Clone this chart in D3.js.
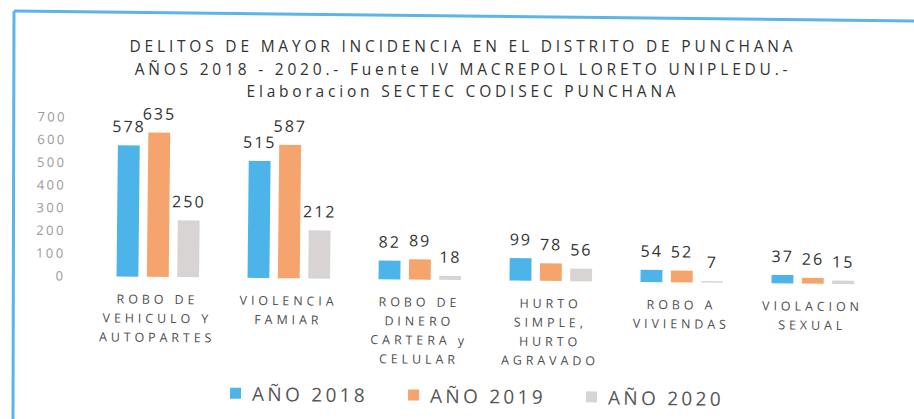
<!DOCTYPE html>
<html>
<head>
<meta charset="utf-8">
<script src="https://cdn.jsdelivr.net/npm/d3@7"></script>
<style>
  body { margin: 0; background: #fff; }
  svg { display: block; }
  .mono { font-family: "Open Sans", sans-serif; }
</style>
</head>
<body>
<div id="chart"></div>
<script>
const categories = [
    "ROBO DE|VEHICULO Y|AUTOPARTES",
    "VIOLENCIA|FAMIAR",
    "ROBO DE|DINERO|CARTERA y|CELULAR",
    "HURTO|SIMPLE,|HURTO|AGRAVADO",
    "ROBO A|VIVIENDAS",
    "VIOLACION|SEXUAL"
]
const years = ["AÑO 2018", "AÑO 2019", "AÑO 2020"]
const values2018 = [578, 515, 82, 99, 54, 37]
const values2019 = [635, 587, 89, 78, 52, 26]
const values2020 = [250, 212, 18, 56, 7, 15]
const yTicks = [0, 100, 200, 300, 400, 500, 600, 700]
const titleLines = [
    "DELITOS DE MAYOR INCIDENCIA EN EL DISTRITO DE PUNCHANA",
    "AÑOS 2018 - 2020.- Fuente IV MACREPOL LORETO UNIPLEDU.-",
    "Elaboracion SECTEC CODISEC PUNCHANA"
]

const COLORS = ["#4db4ea", "#f5a46d", "#d8d4d4"]
const FRAME_COLOR = "#5bb5e6"

var width = 914,
    height = 419

var svg = d3.select("#chart").append("svg")
    .attr("width", width)
    .attr("height", height)

// frame of the photographed chart
svg.append("path")
    .attr("d", d3.line()([[14, 11], [914, 21]]))
    .attr("stroke", FRAME_COLOR)
    .attr("stroke-width", 3)
    .attr("fill", "none")
svg.append("path")
    .attr("d", d3.line()([[14, 11], [13, 419]]))
    .attr("stroke", FRAME_COLOR)
    .attr("stroke-width", 3)
    .attr("fill", "none")

// title (kept level so the lines don't collide)
svg.selectAll(".title")
    .data(titleLines)
    .enter().append("text")
    .attr("class", "title mono")
    .attr("x", 463)
    .attr("y", (d, i) => 52 + i * 22.5)
    .attr("text-anchor", "middle")
    .style("font-size", "15.5px")
    .style("letter-spacing", "3.8px")
    .style("fill", "#333")
    .text(d => d)

// the picture is slightly tilted
var g = svg.append("g")
    .attr("transform", "rotate(0.6, 457, 210)")

var data = categories.map((c, i) => ({
    name: c,
    values: [values2018[i], values2019[i], values2020[i]]
}))

var x0 = d3.scaleBand()
    .domain(categories)
    .range([93, 879])
    .paddingInner(0.37)
    .paddingOuter(0.185)

var x1 = d3.scaleBand()
    .domain(years)
    .range([0, x0.bandwidth()])
    .paddingInner(0.28)

var y = d3.scaleLinear()
    .domain([0, 700])
    .range([280, 121])

// y axis
var yAxis = g.append("g")
    .attr("transform", "translate(70,0)")
    .call(d3.axisLeft(y).tickValues(yTicks).tickSize(0).tickPadding(4))
yAxis.select(".domain").remove()
yAxis.selectAll("text")
    .attr("class", "mono")
    .style("font-family", "'Open Sans', sans-serif")
    .style("font-size", "13px")
    .style("letter-spacing", "2.4px")
    .style("fill", "#9a9a9a")

// bars
var groups = g.selectAll(".group")
    .data(data)
    .enter().append("g")
    .attr("class", "group")
    .attr("transform", d => "translate(" + x0(d.name) + ",0)")

groups.selectAll("rect")
    .data(d => d.values.map((v, i) => ({ year: years[i], value: v, i: i })))
    .enter().append("rect")
    .attr("x", d => x1(d.year))
    .attr("y", d => y(d.value))
    .attr("width", x1.bandwidth())
    .attr("height", d => y(0) - y(d.value))
    .style("fill", d => COLORS[d.i])

groups.selectAll(".value")
    .data(d => d.values.map((v, i) => ({ year: years[i], value: v, i: i })))
    .enter().append("text")
    .attr("class", "value mono")
    .attr("x", d => x1(d.year) + x1.bandwidth() / 2)
    .attr("y", d => y(d.value) - 13)
    .attr("text-anchor", "middle")
    .style("font-size", "16px")
    .style("letter-spacing", "2px")
    .style("fill", "#333")
    .text(d => d.value)

// category labels
groups.append("text")
    .attr("class", "catLabel mono")
    .attr("text-anchor", "middle")
    .style("font-size", "12.5px")
    .style("letter-spacing", "3.9px")
    .style("fill", "#505050")
    .selectAll("tspan")
    .data(d => d.name.split("|"))
    .enter().append("tspan")
    .attr("x", x0.bandwidth() / 2)
    .attr("y", (d, i) => 307 + i * 19)
    .text(d => d)

// legend
var legendX = [232, 410, 588]
var legend = g.selectAll(".legend")
    .data(years)
    .enter().append("g")
    .attr("class", "legend")
    .attr("transform", (d, i) => "translate(" + legendX[i] + ",396)")

legend.append("rect")
    .attr("x", 0)
    .attr("y", -6)
    .attr("width", 11)
    .attr("height", 11)
    .style("fill", (d, i) => COLORS[i])

legend.append("text")
    .attr("class", "mono")
    .attr("x", 22)
    .attr("y", 7)
    .style("font-size", "19px")
    .style("letter-spacing", "3.3px")
    .style("fill", "#555")
    .text(d => d)
</script>
</body>
</html>
